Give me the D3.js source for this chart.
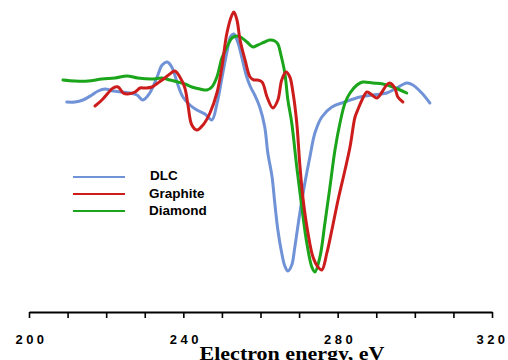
<!DOCTYPE html>
<html>
<head>
<meta charset="utf-8">
<script src="https://cdn.jsdelivr.net/npm/d3@7"></script>
<style>
  html, body { margin: 0; padding: 0; background: #fff; }
  svg { display: block; }
</style>
</head>
<body>
<div id="chart"></div>
<script>
// energy (eV) and signal (arbitrary units)
const dlcEnergy = [209.8, 211.9, 214.0, 216.3, 217.9, 219.7, 221.8, 224.1, 226.2, 228.0, 229.5, 231.3, 233.2, 234.5, 235.8, 237.0, 238.6, 239.9, 241.7, 243.5, 245.6, 247.4, 248.7, 250.0, 251.3, 252.3, 253.1, 254.1, 255.2, 256.2, 257.3, 258.5, 259.8, 261.1, 261.9, 263.0, 263.7, 264.5, 265.5, 266.3, 267.1, 268.1, 268.9, 270.2, 271.5, 272.8, 274.1, 275.9, 278.5, 281.9, 285.8, 289.1, 292.7, 295.3, 297.9, 299.5, 301.8, 303.9];
const dlcSignal = [198, 198, 200, 205, 209, 211, 209, 208, 207, 205, 200, 207, 223, 235, 238, 233, 215, 203, 195, 190, 186, 180, 196, 222, 248, 264, 266, 258, 242, 226, 214, 205, 193, 173, 147, 123, 97, 70, 47, 34, 29, 35, 53, 87, 117, 143, 167, 183, 193, 198, 203, 205, 207, 212, 217, 215, 207, 197];

const graphiteEnergy = [217.1, 218.9, 220.5, 221.8, 223.1, 224.4, 225.6, 227.5, 228.8, 230.1, 231.9, 233.4, 235.2, 236.5, 237.8, 239.1, 240.4, 241.2, 242.2, 243.5, 245.1, 246.9, 248.7, 250.0, 251.3, 252.6, 253.1, 253.9, 254.7, 256.0, 257.3, 258.3, 259.1, 260.4, 261.7, 263.2, 264.5, 265.5, 266.6, 267.6, 268.4, 269.4, 270.2, 271.0, 272.3, 273.6, 274.9, 275.9, 277.2, 278.5, 280.1, 281.9, 283.2, 284.5, 285.2, 286.3, 287.6, 288.9, 290.2, 291.5, 292.7, 293.5, 294.8, 295.6, 296.9];
const graphiteSignal = [194, 200, 207, 212, 213, 207, 206, 208, 212, 212, 213, 217, 222, 226, 229, 223, 212, 195, 175, 170, 175, 187, 207, 233, 267, 285, 288, 280, 260, 240, 223, 220, 220, 218, 203, 192, 200, 220, 228, 223, 208, 177, 135, 102, 67, 43, 33, 30, 47, 70, 100, 130, 153, 183, 190, 200, 208, 205, 202, 208, 215, 217, 212, 203, 198];

const diamondEnergy = [208.8, 211.9, 215.3, 218.9, 222.3, 225.4, 228.2, 231.9, 234.5, 236.5, 238.6, 240.4, 242.2, 244.3, 246.1, 247.4, 248.7, 250.0, 251.3, 252.6, 253.9, 255.2, 256.5, 258.0, 259.3, 261.1, 262.4, 263.7, 264.5, 265.3, 266.3, 267.1, 268.1, 269.4, 270.7, 272.0, 273.3, 274.1, 275.4, 276.7, 278.0, 279.3, 280.6, 281.9, 283.2, 285.0, 286.5, 289.1, 291.7, 294.3, 297.9];
const diamondSignal = [220, 219, 219, 221, 222, 224, 222, 221, 222, 220, 218, 216, 213, 211, 210, 213, 223, 242, 253, 262, 264, 262, 258, 253, 255, 258, 260, 259, 256, 245, 227, 200, 177, 133, 93, 57, 33, 28, 43, 77, 113, 150, 177, 197, 207, 215, 218, 217, 216, 213, 207];

const seriesNames = ["DLC", "Graphite", "Diamond"];
const seriesColors = ["#7092d6", "#cc1c1c", "#1aa51a"];
const tickEnergies = [200, 210, 220, 230, 240, 250, 260, 270, 280, 290, 300, 310, 320];
const labelEnergies = [200, 240, 280, 320];
const xTitle = "Electron energy, eV";

const W = 508, H = 360;
const svg = d3.select("#chart").append("svg").attr("width", W).attr("height", H);
svg.append("rect").attr("width", W).attr("height", H).attr("fill", "#fff");

const x = d3.scaleLinear().domain([200, 320]).range([29, 492]);
const y = d3.scaleLinear().domain([0, 300]).range([300, 0]);
const axisY = 312;

const series = [
  { name: seriesNames[0], color: seriesColors[0], pts: dlcEnergy.map((e, i) => ({ e, v: dlcSignal[i] })) },
  { name: seriesNames[1], color: seriesColors[1], pts: graphiteEnergy.map((e, i) => ({ e, v: graphiteSignal[i] })) },
  { name: seriesNames[2], color: seriesColors[2], pts: diamondEnergy.map((e, i) => ({ e, v: diamondSignal[i] })) }
];

const line = d3.line()
  .x(d => x(d.e))
  .y(d => y(d.v))
  .curve(d3.curveCatmullRom.alpha(0.5));

// blue first, then green, red on top like the original
[0, 2, 1].forEach(i => {
  svg.append("path")
    .datum(series[i].pts)
    .attr("fill", "none")
    .attr("stroke", series[i].color)
    .attr("stroke-width", 3)
    .attr("stroke-linejoin", "round")
    .attr("stroke-linecap", "round")
    .attr("d", line);
});

// x axis
const xAxis = d3.axisBottom(x)
  .tickValues(tickEnergies)
  .tickSize(6)
  .tickSizeOuter(0)
  .tickFormat(d => labelEnergies.includes(d) ? d : "");

const gx = svg.append("g")
  .attr("transform", `translate(0,${axisY})`)
  .call(xAxis);
gx.select(".domain").attr("stroke", "#000").attr("stroke-width", 2);
gx.selectAll(".tick line").attr("stroke", "#000").attr("stroke-width", 1.6);
gx.selectAll(".tick text")
  .attr("y", 32)
  .attr("dy", "0")
  .attr("dx", d => d === 320 ? "0" : "2")
  .attr("fill", "#000")
  .style("font-family", "'Liberation Sans', Arial, sans-serif")
  .style("font-weight", "bold")
  .style("font-size", "13px")
  .style("letter-spacing", "3.5px");

svg.append("text")
  .attr("x", 292)
  .attr("y", 360)
  .attr("text-anchor", "middle")
  .attr("textLength", 185)
  .attr("lengthAdjust", "spacingAndGlyphs")
  .style("font-family", "'Liberation Serif', 'Times New Roman', serif")
  .style("font-size", "19px")
  .style("font-weight", "bold")
  .text(xTitle);

// legend
const legendRows = [177, 194, 211];
const legend = svg.append("g");
series.forEach((s, i) => {
  legend.append("line")
    .attr("x1", 73).attr("x2", 125)
    .attr("y1", legendRows[i]).attr("y2", legendRows[i])
    .attr("stroke", s.color)
    .attr("stroke-width", 2);
  legend.append("text")
    .attr("x", i === 0 ? 150 : 149)
    .attr("y", legendRows[i] + (i === 0 ? 3 : 4))
    .style("font-family", "'Liberation Sans', Arial, sans-serif")
    .style("font-weight", "bold")
    .style("font-size", "13.5px")
    .text(s.name);
});
</script>
</body>
</html>
